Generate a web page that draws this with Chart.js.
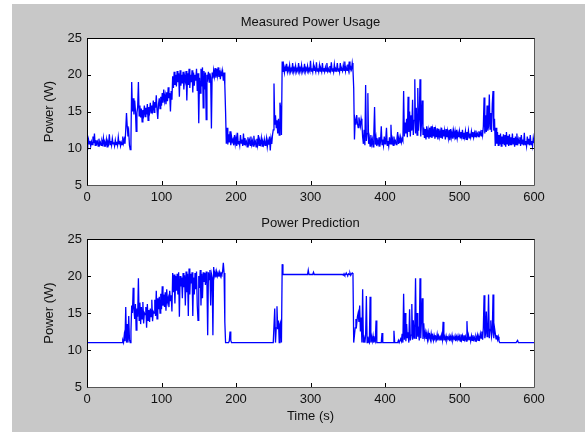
<!DOCTYPE html>
<html>
<head>
<meta charset="utf-8">
<script src="https://cdn.jsdelivr.net/npm/chart.js@4.4.1/dist/chart.umd.min.js"></script>
<style>
  body { margin: 0; background: #fff; }
  #fig { position: absolute; left: 12px; top: 4px; width: 573px; height: 428px; background: #c8c8c8; }
  canvas { position: absolute; left: 0; }
  #top { top: 0; }
  #bottom { top: 208px; }
</style>
</head>
<body>
<div id="fig">
  <canvas id="top" width="573" height="208"></canvas>
  <canvas id="bottom" width="573" height="220"></canvas>
</div>
<script>
// one sample per second, 0..600 s
var sampleStep = 1;
var xTicks = [0, 100, 200, 300, 400, 500, 600];
var yTicks = [5, 10, 15, 20, 25];

var measured = [
  10.8,10.4,11.2,10.6,11.0,10.3,10.9,10.5,11.6,10.7,12.0,10.4,11.1,10.6,10.9,10.3,11.3,10.5,10.8,10.4, // 0
  11.0,10.6,11.4,10.3,10.8,10.5,11.2,10.2,10.9,10.6,11.9,10.5,11.0,10.4,11.3,10.6,10.8,10.3,11.1,10.5, // 20
  10.9,10.4,11.5,10.6,11.0,10.3,10.8,10.5,11.6,10.7,11.2,10.6,12.5,14.8,13.0,11.6,12.2,10.4,9.8,11.0,  // 40
  19.0,15.0,16.8,14.6,16.5,15.2,12.3,14.8,15.6,19.0,14.4,15.8,14.2,15.4,13.6,15.2,14.6,15.8,14.3,15.5, // 60
  14.6,16.0,13.8,15.6,15.0,16.2,14.8,15.8,15.2,16.5,14.9,16.3,15.5,17.2,15.2,14.0,16.0,16.8,15.4,17.0, // 80
  15.8,17.5,16.2,18.0,16.5,17.2,16.0,17.6,16.4,18.3,16.8,17.5,15.0,17.8,16.6,19.8,18.2,20.4,18.6,20.0, // 100
  18.4,20.5,19.0,20.2,17.0,20.6,18.5,20.0,18.8,20.4,18.0,19.8,19.2,20.5,16.5,20.2,18.6,20.8,18.2,20.0, // 120
  19.0,20.6,17.6,20.3,18.5,20.0,19.2,20.8,17.8,20.2,13.4,19.6,17.5,20.8,18.4,21.0,15.5,20.5,18.0,20.3, // 140
  13.9,20.0,19.5,20.4,19.0,20.2,19.6,12.7,20.3,19.5,20.6,19.8,20.9,19.6,20.8,19.9,21.0,19.7,20.6,19.4, // 160
  20.4,19.8,20.5,19.2,20.3,18.6,15.0,10.6,12.8,10.5,11.9,10.8,12.3,10.4,11.6,10.9,11.2,10.4,11.8,10.6, // 180
  11.4,10.3,12.1,10.6,11.0,10.4,11.8,10.7,11.2,10.3,12.0,10.5,11.4,10.6,10.9,10.2,11.5,10.6,11.1,10.4, // 200
  11.6,10.5,11.0,10.3,11.7,10.6,10.9,10.2,11.3,10.5,11.8,10.4,11.0,10.6,11.4,10.3,10.9,10.5,11.2,10.4, // 220
  10.8,11.4,10.2,11.0,10.5,11.6,9.7,11.3,10.6,11.8,12.5,18.8,13.2,14.5,12.8,13.8,12.0,14.0,11.8,16.2,  // 240
  15.4,11.8,21.8,20.4,21.2,20.3,21.0,20.5,21.5,20.4,20.9,20.5,21.3,20.4,20.8,20.5,21.6,20.4,20.9,20.5, // 260
  21.2,20.4,20.8,20.5,21.6,20.4,20.9,20.5,21.3,20.4,20.8,20.5,21.5,20.4,20.9,20.6,21.2,20.4,20.8,20.5, // 280
  21.9,20.5,20.9,20.4,21.4,20.6,20.8,20.4,21.7,20.5,20.9,20.4,21.3,20.5,20.8,20.4,21.6,20.5,20.9,20.4, // 300
  21.0,20.5,21.6,20.5,20.8,20.4,21.2,20.6,21.7,20.5,20.9,20.4,21.4,20.5,20.8,20.6,21.6,20.5,20.9,20.4, // 320
  21.6,20.6,20.8,20.5,21.3,20.6,21.8,20.5,21.0,20.6,21.4,20.7,21.8,20.6,21.0,20.7,21.6,20.7,18.2,11.2, // 340
  13.8,13.2,14.5,13.4,12.8,14.2,13.6,13.0,14.0,13.4,11.5,10.6,12.5,10.4,18.6,11.0,12.0,17.5,10.6,11.4, // 360
  10.3,11.8,10.6,11.2,10.2,12.0,15.6,10.5,11.4,10.3,11.0,10.6,11.5,10.2,10.9,13.0,10.5,11.2,10.4,11.6, // 380
  10.6,11.3,12.8,10.4,11.0,10.3,11.5,10.6,13.2,10.5,11.2,10.4,11.6,10.7,11.0,10.5,11.3,12.2,10.6,11.4, // 400
  10.7,11.5,10.8,11.3,11.0,17.8,11.6,13.5,12.0,14.0,11.5,17.0,12.2,15.0,11.6,14.5,12.4,16.6,11.8,13.8, // 420
  19.4,12.0,15.5,11.8,18.2,12.4,14.0,19.4,11.6,13.5,16.5,11.8,12.8,11.4,12.6,11.2,13.0,11.5,12.4,11.3, // 440
  12.8,11.5,13.0,11.4,12.5,11.6,12.9,11.3,12.4,11.5,12.7,11.2,12.6,11.6,12.3,11.4,12.8,11.3,12.5,11.6, // 460
  12.4,11.2,12.6,11.5,12.3,11.4,12.5,11.1,12.6,11.5,12.2,11.3,12.4,11.6,12.3,11.2,12.5,11.4,12.1,11.5, // 480
  12.3,11.4,12.2,11.6,12.5,11.3,12.1,11.5,12.3,11.2,12.2,11.6,12.4,11.4,12.0,11.5,12.3,11.6,12.2,11.5, // 500
  12.1,11.6,12.4,11.7,12.0,11.6,12.3,11.8,12.2,11.7,12.5,11.8,13.0,16.9,12.0,14.5,12.2,15.8,12.4,13.0, // 520
  17.3,12.6,14.8,12.2,16.0,17.8,12.4,14.0,10.3,12.8,10.6,12.2,10.4,11.8,10.5,12.0,10.3,11.6,10.6,11.9, // 540
  10.5,11.8,10.2,12.2,10.6,11.7,10.3,11.9,10.5,11.5,10.4,12.0,10.6,11.4,10.2,11.6,10.5,12.0,10.4,11.2, // 560
  10.7,11.5,10.3,11.8,10.6,11.2,10.4,12.1,10.5,11.0,10.3,11.6,10.6,11.3,10.4,11.8,10.5,11.0,10.3,11.4, // 580
  10.7
];

var predicted = [
  11.0,11.0,11.0,11.0,11.0,11.0,11.0,11.0,11.0,11.0,11.0,11.0,11.0,11.0,11.0,11.0,11.0,11.0,11.0,11.0, // 0
  11.0,11.0,11.0,11.0,11.0,11.0,11.0,11.0,11.0,11.0,11.0,11.0,11.0,11.0,11.0,11.0,11.0,11.0,11.0,11.0, // 20
  11.0,11.0,11.0,11.0,11.0,11.0,11.0,11.0,11.3,11.0,12.0,11.2,15.8,11.0,13.5,11.0,14.6,11.4,11.0,12.5, // 40
  16.0,15.0,18.4,15.5,14.2,16.2,12.7,15.6,14.5,19.7,14.0,16.4,13.5,15.8,14.2,16.5,13.6,15.0,14.8,15.8, // 60
  13.0,16.2,14.0,15.4,13.8,15.6,14.5,16.8,13.9,15.2,15.0,16.8,14.6,18.0,14.2,17.0,15.5,17.2,15.0,17.6, // 80
  15.5,18.6,16.0,17.5,15.8,17.8,15.3,18.2,16.5,17.0,15.8,18.0,16.6,17.4,15.2,20.4,17.8,20.2,16.3,20.0, // 100
  18.0,20.3,17.5,20.5,14.5,20.0,18.6,19.8,17.0,20.4,18.5,20.1,16.0,20.6,17.8,20.3,14.6,21.0,17.5,20.3, // 120
  19.0,20.5,14.6,19.8,17.5,20.4,18.2,20.6,16.0,14.0,20.0,18.4,20.8,16.0,20.3,17.0,20.5,19.2,20.4,18.8, // 140
  20.6,19.0,12.0,20.5,19.5,20.8,16.0,20.3,19.8,12.0,21.2,20.0,20.5,19.8,20.6,20.0,20.4,19.9,20.5,20.0, // 160
  20.4,20.2,20.6,21.8,20.4,13.8,11.0,11.0,11.0,11.0,11.0,11.2,12.5,11.3,11.0,11.0,11.0,11.0,11.0,11.0, // 180
  11.0,11.0,11.0,11.0,11.0,11.0,11.0,11.0,11.0,11.0,11.0,11.0,11.0,11.0,11.0,11.0,11.0,11.0,11.0,11.0, // 200
  11.0,11.0,11.0,11.0,11.0,11.0,11.0,11.0,11.0,11.0,11.0,11.0,11.0,11.0,11.0,11.0,11.0,11.0,11.0,11.0, // 220
  11.0,11.0,11.0,11.0,11.0,11.0,11.0,11.0,11.0,11.0,11.0,11.0,15.6,11.0,13.0,15.9,12.8,14.0,11.0,13.5, // 240
  13.8,11.0,21.6,20.2,20.2,20.2,20.2,20.2,20.2,20.2,20.2,20.2,20.2,20.2,20.2,20.2,20.2,20.2,20.2,20.2, // 260
  20.2,20.2,20.2,20.2,20.2,20.2,20.2,20.2,20.2,20.2,20.2,20.2,20.2,20.2,20.2,20.2,20.2,20.8,20.2,20.2, // 280
  20.2,20.2,20.2,20.2,20.5,20.2,20.2,20.2,20.2,20.2,20.2,20.2,20.2,20.2,20.2,20.2,20.2,20.2,20.2,20.2, // 300
  20.2,20.2,20.2,20.2,20.2,20.2,20.2,20.2,20.2,20.2,20.2,20.2,20.2,20.2,20.2,20.2,20.2,20.2,20.2,20.2, // 320
  20.2,20.2,20.2,20.2,20.1,20.3,20.1,20.2,20.4,20.2,20.1,20.3,20.2,20.4,20.1,20.3,20.4,20.3,11.0,12.0, // 340
  13.0,14.2,13.5,14.5,15.0,13.8,16.0,12.5,14.4,11.0,18.2,11.0,11.6,11.0,12.0,17.3,11.0,11.8,11.2,11.0, // 360
  17.2,11.0,11.8,11.2,11.9,11.0,11.5,11.2,14.0,11.0,11.0,11.0,11.0,11.0,11.0,11.0,12.3,11.0,11.0,11.0, // 380
  11.0,11.0,11.0,11.0,11.0,11.0,11.0,11.0,11.0,11.0,11.0,11.0,12.6,11.0,11.0,11.0,11.0,11.0,11.3,11.0, // 400
  11.0,11.5,11.2,12.2,11.0,17.6,11.4,15.0,11.2,13.5,11.6,12.4,11.0,15.5,11.3,12.0,16.2,11.4,14.0,11.6, // 420
  13.0,19.7,11.5,15.0,11.8,12.5,11.3,19.7,11.6,14.2,17.0,11.5,13.6,11.8,12.4,11.5,12.2,11.4,12.3,11.6, // 440
  12.0,11.4,12.2,11.5,11.9,11.3,12.0,11.6,11.8,11.4,12.1,11.3,11.9,11.5,11.8,11.3,12.0,11.4,13.8,11.3, // 460
  11.8,11.4,11.9,11.3,11.7,11.5,11.9,11.2,11.8,11.4,12.0,11.3,11.7,11.5,11.9,11.2,11.8,11.4,11.9,11.3, // 480
  11.8,11.2,12.1,11.4,11.9,11.3,12.0,11.4,11.8,11.2,13.9,11.3,12.0,11.4,11.8,11.2,11.9,11.3,12.0,11.4, // 500
  11.7,11.2,11.8,11.4,12.0,11.3,11.8,11.5,12.2,11.6,12.5,11.4,13.0,17.4,11.6,12.2,15.2,11.8,12.4,17.5, // 520
  11.6,12.8,14.0,11.8,12.4,17.5,11.6,13.0,12.3,11.5,12.0,11.4,11.8,11.2,11.0,11.0,11.0,11.0,11.0,11.0, // 540
  11.0,11.0,11.0,11.0,11.0,11.0,11.0,11.0,11.0,11.0,11.0,11.0,11.0,11.0,11.0,11.0,11.0,11.0,11.3,11.0, // 560
  11.0,11.0,11.0,11.0,11.0,11.0,11.0,11.0,11.0,11.0,11.0,11.0,11.0,11.0,11.0,11.0,11.0,11.0,11.0,11.0, // 580
  11.0
];

Chart.defaults.font.family = '"Liberation Sans", Arial, sans-serif';
Chart.defaults.color = '#111';

function toPoints(values) {
  return values.map(function(v, i) { return { x: i * sampleStep, y: v }; });
}

// matlab style box with inward ticks on all four sides
var boxTicks = {
  id: 'boxTicks',
  afterDatasetsDraw: function(chart) {
    var ctx = chart.ctx, a = chart.chartArea;
    var xs = chart.scales.x, ys = chart.scales.y;
    var len = 4;
    ctx.save();
    ctx.lineWidth = 1;
    ctx.strokeStyle = '#000';
    ctx.beginPath();
    xTicks.forEach(function(v) {
      var px = Math.round(xs.getPixelForValue(v)) + 0.5;
      ctx.moveTo(px, a.bottom); ctx.lineTo(px, a.bottom - len);
      ctx.moveTo(px, a.top); ctx.lineTo(px, a.top + len);
    });
    yTicks.forEach(function(v) {
      var py = Math.round(ys.getPixelForValue(v)) + 0.5;
      ctx.moveTo(a.left, py); ctx.lineTo(a.left + len, py);
      ctx.moveTo(a.right, py); ctx.lineTo(a.right - len, py);
    });
    ctx.stroke();
    ctx.beginPath();
    ctx.moveTo(a.left + 0.5, a.bottom + 0.5);
    ctx.lineTo(a.left + 0.5, a.top + 0.5);
    ctx.lineTo(a.right + 0.5, a.top + 0.5);
    ctx.stroke();
    ctx.strokeStyle = '#555';
    ctx.beginPath();
    ctx.moveTo(a.right + 0.5, a.top + 0.5);
    ctx.lineTo(a.right + 0.5, a.bottom + 0.5);
    ctx.lineTo(a.left + 0.5, a.bottom + 0.5);
    ctx.stroke();
    ctx.restore();
  }
};

var whiteArea = {
  id: 'whiteArea',
  beforeDraw: function(chart) {
    var a = chart.chartArea;
    chart.ctx.save();
    chart.ctx.fillStyle = '#fff';
    chart.ctx.fillRect(a.left, a.top, a.right - a.left, a.bottom - a.top);
    chart.ctx.restore();
  }
};

// axes title centred over the plot box, like matlab
var axesTitle = {
  id: 'axesTitle',
  afterDraw: function(chart, args, opts) {
    var a = chart.chartArea, ctx = chart.ctx;
    ctx.save();
    ctx.font = '13px "Liberation Sans", Arial, sans-serif';
    ctx.fillStyle = '#111';
    ctx.textAlign = 'center';
    ctx.textBaseline = 'middle';
    ctx.fillText(opts.text, (a.left + a.right) / 2, opts.y);
    ctx.restore();
  }
};

function makeChart(id, title, values, opt) {
  var ctx = document.getElementById(id).getContext('2d');
  return new Chart(ctx, {
    type: 'line',
    data: {
      datasets: [{
        data: toPoints(values),
        borderColor: '#0000ff',
        borderWidth: 1.3,
        pointRadius: 0,
        tension: 0,
        fill: false
      }]
    },
    options: {
      responsive: false,
      animation: false,
      devicePixelRatio: 1,
      layout: { padding: { left: 0, right: 51, top: opt.top, bottom: 0 } },
      plugins: {
        legend: { display: false },
        tooltip: { enabled: false },
        title: { display: false },
        axesTitle: { text: title, y: opt.titleY }
      },
      scales: {
        x: {
          type: 'linear',
          min: 0,
          max: 600,
          grid: { display: false, drawTicks: false },
          border: { display: false },
          ticks: { stepSize: 100, font: { size: 13 }, padding: 5, maxRotation: 0, autoSkip: false },
          title: opt.xTitle,
          afterFit: function(s) { s.height = opt.xHeight; }
        },
        y: {
          min: 5,
          max: 25,
          grid: { display: false, drawTicks: false },
          border: { display: false },
          ticks: { stepSize: 5, font: { size: 13 }, padding: 5 },
          title: {
            display: true,
            text: 'Power (W)',
            color: '#111',
            font: { size: 13 },
            padding: { top: 30, bottom: 0 }
          },
          afterFit: function(s) { s.width = 75; }
        }
      }
    },
    plugins: [whiteArea, boxTicks, axesTitle]
  });
}

makeChart('top', 'Measured Power Usage', measured, {
  top: 34,
  titleY: 18,
  xHeight: 27,
  xTitle: { display: false }
});

makeChart('bottom', 'Power Prediction', predicted, {
  top: 27,
  titleY: 11,
  xHeight: 45,
  xTitle: {
    display: true,
    text: 'Time (s)',
    color: '#111',
    font: { size: 13 },
    padding: { top: 0, bottom: 8.2 }
  }
});
</script>
</body>
</html>
